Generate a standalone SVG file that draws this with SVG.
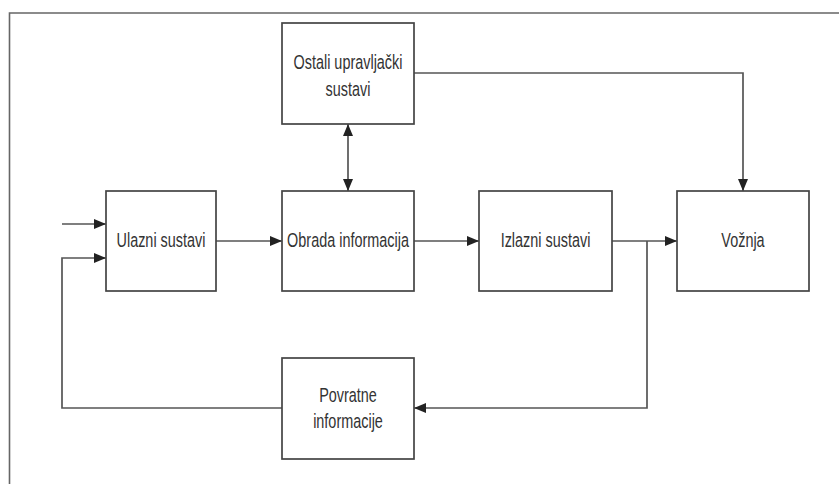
<svg xmlns="http://www.w3.org/2000/svg" width="839" height="484" viewBox="0 0 839 484">
<style>
.box{fill:#fff;stroke:#444;stroke-width:1.7}
.ln{fill:none;stroke:#555;stroke-width:1.7}
.t{font-family:"Liberation Sans",Arial,sans-serif;font-size:19.5px;fill:#333;text-anchor:middle}
</style>
<defs>
<marker id="ah" viewBox="0 0 12 10" markerWidth="12" markerHeight="10" refX="12" refY="5" markerUnits="userSpaceOnUse" orient="auto-start-reverse">
<path d="M0,0 L12,5 L0,10 z" fill="#222"/>
</marker>
</defs>
<rect width="839" height="484" fill="#fff"/>
<path d="M9.5,484 V13 H839" fill="none" stroke="#666" stroke-width="1.6"/>
<g id="connectors">
<path class="ln" d="M62,224 H106" marker-end="url(#ah)"/>
<path class="ln" d="M216,241 H282" marker-end="url(#ah)"/>
<path class="ln" d="M414,241 H479" marker-end="url(#ah)"/>
<path class="ln" d="M612,241 H677" marker-end="url(#ah)"/>
<path class="ln" d="M348,124 V191" marker-start="url(#ah)" marker-end="url(#ah)"/>
<path class="ln" d="M414,73 H743 V191" marker-end="url(#ah)"/>
<path class="ln" d="M647,241 V408 H414" marker-end="url(#ah)"/>
<path class="ln" d="M282,408 H62 V258 H106" marker-end="url(#ah)"/>
</g>
<g id="ostali">
<rect class="box" x="282" y="23" width="132" height="101"/>
<text class="t" transform="translate(348,69) scale(0.74,1)">Ostali upravljački</text>
<text class="t" transform="translate(348,96) scale(0.74,1)">sustavi</text>
</g>
<g id="ulazni">
<rect class="box" x="106" y="191" width="110" height="100"/>
<text class="t" transform="translate(161,247) scale(0.74,1)">Ulazni sustavi</text>
</g>
<g id="obrada">
<rect class="box" x="282" y="191" width="132" height="100"/>
<text class="t" transform="translate(348,247) scale(0.74,1)">Obrada informacija</text>
</g>
<g id="izlazni">
<rect class="box" x="479" y="191" width="133" height="100"/>
<text class="t" transform="translate(545.5,247) scale(0.74,1)">Izlazni sustavi</text>
</g>
<g id="voznja">
<rect class="box" x="677" y="191" width="132" height="100"/>
<text class="t" transform="translate(743,247) scale(0.74,1)">Vožnja</text>
</g>
<g id="povratne">
<rect class="box" x="282" y="358" width="132" height="101"/>
<text class="t" transform="translate(348,402) scale(0.74,1)">Povratne</text>
<text class="t" transform="translate(348,428) scale(0.74,1)">informacije</text>
</g>
</svg>
